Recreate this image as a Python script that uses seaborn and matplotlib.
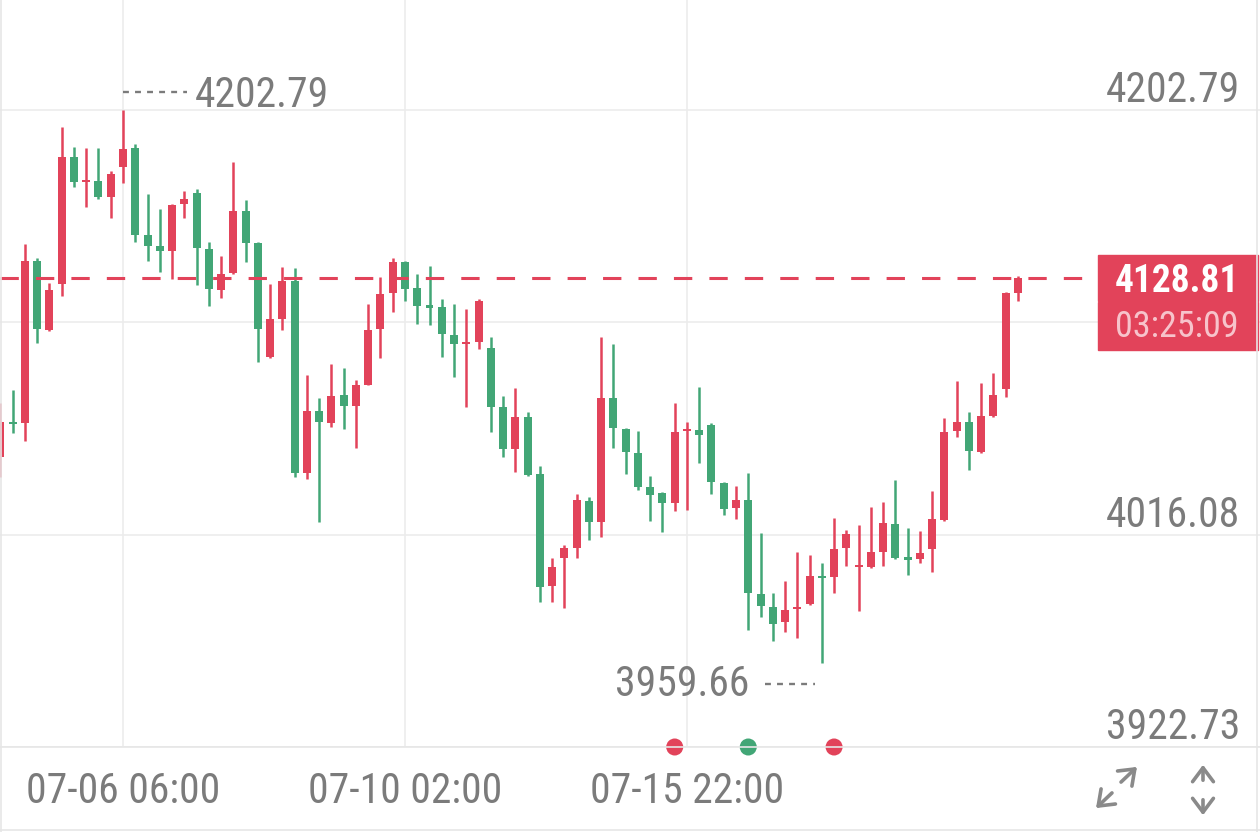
import numpy as np
import pandas as pd
import matplotlib
matplotlib.use("Agg")
import matplotlib.pyplot as plt
import matplotlib.transforms as mtransforms
from matplotlib.patches import Rectangle, FancyArrowPatch
from matplotlib.lines import Line2D
from matplotlib import font_manager as fm
import seaborn as sns

# ---------------- data ----------------
opens = [4050.2, 4065.6, 4065.2, 4136.4, 4106.1, 4126.3, 4182.1, 4171.1, 4171.6, 4164.5,
         4177.7, 4186.1, 4147.8, 4143.0, 4140.8, 4161.5, 4166.3, 4141.7, 4123.7, 4131.1,
         4158.4, 4144.3, 4094.2, 4110.9, 4127.6, 4043.2, 4070.5, 4065.2, 4077.5, 4072.7,
         4081.9, 4106.5, 4122.3, 4136.0, 4124.5, 4116.6, 4116.2, 4103.9, 4099.9, 4100.8,
         4098.2, 4072.2, 4053.8, 4067.8, 4042.8, 3993.5, 4005.8, 4010.2, 4030.9, 4021.7,
         4076.2, 4062.5, 4052.0, 4037.0, 4034.4, 4030.0, 4061.7, 4062.1, 4064.3, 4038.8,
         4027.8, 4031.3, 3990.0, 3984.3, 3977.7, 3983.4, 3985.6, 3997.9, 3997.5, 4010.2,
         4001.9, 4001.9, 4008.5, 4020.8, 4005.8, 4005.4, 4009.8, 4022.5, 4061.7, 4065.6,
         4052.4, 4068.3, 4080.1, 4122.3]
highs = [4074.0, 4079.7, 4143.9, 4137.7, 4126.7, 4195.3, 4186.5, 4186.1, 4186.1, 4176.0,
         4202.79, 4187.9, 4165.9, 4159.3, 4161.5, 4167.2, 4168.1, 4144.8, 4138.6, 4179.9,
         4163.2, 4144.8, 4126.3, 4133.8, 4133.3, 4086.3, 4076.2, 4091.1, 4089.4, 4084.1,
         4117.5, 4129.4, 4137.7, 4136.5, 4130.7, 4134.2, 4119.7, 4117.5, 4115.3, 4119.7,
         4103.0, 4077.1, 4080.6, 4070.0, 4046.3, 4005.8, 4011.5, 4034.0, 4032.6, 4103.0,
         4099.9, 4063.0, 4061.7, 4041.9, 4034.8, 4074.0, 4065.6, 4081.0, 4065.2, 4039.2,
         4037.5, 4043.2, 4016.8, 3990.4, 3995.7, 4008.5, 4007.2, 4003.6, 4023.4, 4018.1,
         4020.3, 4028.2, 4030.4, 4040.1, 4019.0, 4017.7, 4035.3, 4067.4, 4083.7, 4070.0,
         4082.8, 4087.2, 4122.8, 4129.8]
lows = [4041.4, 4060.8, 4057.3, 4100.4, 4105.6, 4121.0, 4168.9, 4160.2, 4163.7, 4155.3,
        4170.7, 4144.8, 4136.4, 4131.6, 4128.5, 4155.3, 4125.9, 4116.6, 4120.1, 4130.9,
        4136.0, 4092.0, 4093.8, 4106.1, 4041.4, 4040.6, 4021.7, 4063.4, 4062.5, 4054.2,
        4081.7, 4093.8, 4114.0, 4118.8, 4108.7, 4108.3, 4094.2, 4085.4, 4072.2, 4097.7,
        4061.2, 4050.2, 4043.6, 4042.0, 3986.5, 3986.5, 3983.8, 4005.8, 4013.7, 4015.1,
        4054.2, 4042.8, 4035.7, 4022.1, 4017.3, 4026.5, 4026.9, 4047.6, 4034.0, 4024.7,
        4023.0, 3974.2, 3979.9, 3969.3, 3973.3, 3970.7, 3985.2, 3959.66, 3990.4, 4002.3,
        3982.5, 4001.5, 4002.3, 4005.5, 3998.4, 4003.6, 3999.7, 4022.2, 4059.0, 4044.5,
        4052.0, 4068.0, 4076.6, 4118.8]
closes = [4065.6, 4064.7, 4136.4, 4106.5, 4123.7, 4182.1, 4171.1, 4172.0, 4164.5, 4174.7,
          4185.7, 4147.8, 4143.0, 4140.8, 4161.0, 4163.7, 4142.1, 4124.1, 4130.7, 4158.4,
          4144.3, 4106.5, 4110.9, 4127.6, 4043.2, 4070.5, 4065.6, 4077.1, 4072.7, 4081.9,
          4106.1, 4121.9, 4136.0, 4124.1, 4116.6, 4116.2, 4104.3, 4099.9, 4100.4, 4118.8,
          4072.2, 4053.8, 4067.8, 4042.3, 3993.1, 4001.9, 4010.2, 4031.3, 4021.7, 4076.2,
          4063.0, 4052.4, 4037.0, 4033.5, 4030.0, 4061.2, 4062.1, 4059.9, 4039.2, 4027.4,
          4031.3, 3990.4, 3984.7, 3976.8, 3983.0, 3984.3, 3997.9, 3997.0, 4009.8, 4016.4,
          4002.3, 4008.5, 4021.2, 4005.8, 4005.4, 4008.0, 4023.0, 4061.2, 4065.6, 4052.9,
          4068.3, 4077.5, 4122.3, 4128.81]

time_labels = ["07-06 06:00", "07-10 02:00", "07-15 22:00"]
time_label_idx = [10, 33, 56]
price_labels = [4202.79, 4016.08, 3922.73]
grid_prices = [4202.79, 4109.435, 4016.08, 3922.73]
last_price = 4128.81
countdown = "03:25:09"
max_price, max_idx = 4202.79, 10
min_price, min_idx = 3959.66, 67
signal_idx = [55, 61, 68]
signal_side = ["up", "down", "up"]

# ---------------- style ----------------
RED = "#e2435a"
GREEN = "#42a676"
GRAY_TXT = "#7b7b7b"
GRID = "#ececec"

sns.set_theme(style="white")
_names = {f.name for f in fm.fontManager.ttflist}
_narrow = [n for n in ["Liberation Sans Narrow", "Roboto Condensed"] if n in _names]
if _narrow:
    plt.rcParams["font.family"] = [_narrow[0], "DejaVu Sans"]
    FS, FSB1, FSB2, WT = 30, 27, 26, "normal"
else:
    plt.rcParams["font.family"] = ["Roboto", "DejaVu Sans"]
    FS, FSB1, FSB2, WT = 26, 25, 24, "medium"

W, H = 1260, 832
fig = plt.figure(figsize=(W / 100, H / 100), dpi=100)
fig.patch.set_facecolor("white")
ax_bottom_px = 747
ax = fig.add_axes([0, 1 - ax_bottom_px / H, 1, ax_bottom_px / H])
ax.set_facecolor("white")

step = 12.26
x0px = 0.4
ax.set_xlim((0 - x0px) / step, (W - x0px) / step)
ax.set_ylim(3922.73, 4251.16)
for s in ax.spines.values():
    s.set_visible(False)
ax.set_xticks([])
ax.set_yticks([])

# grid
for gp in grid_prices:
    ax.axhline(gp, color=GRID, lw=1.2, zorder=0)
for gi in time_label_idx:
    ax.axvline(gi, color=GRID, lw=1.2, zorder=0)

# candles
df = pd.DataFrame({"open": opens, "high": highs, "low": lows, "close": closes})
df["idx"] = np.arange(len(df))
df["up"] = df["close"] >= df["open"]
df["color"] = np.where(df["up"], RED, GREEN)
min_h = 0.9
diff = (df["close"] - df["open"]).abs()
body_h = np.maximum(diff, min_h)
body_bot = np.minimum(df["open"], df["close"]) - (body_h - diff) / 2

ax.vlines(df["idx"], df["low"], df["high"], colors=df["color"], lw=1.8, zorder=3)
ax.bar(df["idx"], body_h, bottom=body_bot, width=0.65, color=df["color"],
       linewidth=0, zorder=4)

# current price dashed line + box
ax.axhline(last_price, xmin=0, xmax=1098 / W, color=RED, lw=2.2,
           linestyle=(0, (6.0, 5.6)), zorder=5)
box_top = 1 - 255 / ax_bottom_px
box_mid = 1 - 301 / ax_bottom_px
box_bot = 1 - 350 / ax_bottom_px
ax.add_patch(Rectangle((1098 / W, box_mid), (1258 - 1098) / W, box_top - box_mid,
                       transform=ax.transAxes, color=RED, zorder=6, clip_on=False))
ax.add_patch(Rectangle((1098 / W, box_bot), (1258 - 1098) / W, box_mid - box_bot - 0.002,
                       transform=ax.transAxes, color=RED, zorder=6, clip_on=False))
ax.text(1177 / W, 1 - 292 / ax_bottom_px, f"{last_price:.2f}", transform=ax.transAxes,
        ha="center", va="baseline", color="white", fontsize=FSB1, fontweight="bold", zorder=7)
ax.text(1177 / W, 1 - 337 / ax_bottom_px, countdown, transform=ax.transAxes,
        ha="center", va="baseline", color="#f7c3cb", fontsize=FSB2, fontweight=WT, zorder=7)

# right-side price labels
for p in price_labels:
    ax.annotate(f"{p:.2f}", xy=(1240 / W, p), xycoords=("axes fraction", "data"),
                xytext=(0, 8), textcoords="offset pixels", ha="right", va="baseline",
                color=GRAY_TXT, fontsize=FS, fontweight=WT)

# max / min annotations
off_up = mtransforms.offset_copy(ax.transData, fig=fig, x=0, y=18, units="dots")
ax.plot([max_idx, max_idx + 64 / step], [max_price, max_price], transform=off_up,
        color=GRAY_TXT, lw=1.7, linestyle=(0, (2.5, 2.6)), zorder=5)
ax.annotate(f"{max_price:.2f}", xy=(max_idx, max_price), xytext=(72, 3),
            textcoords="offset pixels", ha="left", va="baseline", color=GRAY_TXT,
            fontsize=FS, fontweight=WT)
off_dn = mtransforms.offset_copy(ax.transData, fig=fig, x=0, y=-21, units="dots")
ax.plot([min_idx - 57 / step, min_idx - 7 / step], [min_price, min_price], transform=off_dn,
        color=GRAY_TXT, lw=1.7, linestyle=(0, (2.5, 2.6)), zorder=5)
ax.annotate(f"{min_price:.2f}", xy=(min_idx, min_price), xytext=(-72, -33),
            textcoords="offset pixels", ha="right", va="baseline", color=GRAY_TXT,
            fontsize=FS, fontweight=WT)

# signal dots on the bottom line
sig = pd.DataFrame({"idx": signal_idx, "side": signal_side, "y": [3922.73] * len(signal_idx)})
sns.scatterplot(data=sig, x="idx", y="y", hue="side", palette={"up": RED, "down": GREEN},
                s=150, linewidth=0, legend=False, ax=ax, zorder=8)
ax.collections[-1].set_clip_on(False)
ax.set_xlabel("")
ax.set_ylabel("")

# time axis labels
for lbl, gi in zip(time_labels, time_label_idx):
    xf = (gi * step + x0px) / W
    fig.text(xf, 1 - 803 / H, lbl, ha="center", va="baseline", color=GRAY_TXT,
             fontsize=FS, fontweight=WT)

# frame lines
for (xa, ya, xb, yb) in [(0, 1 - 747 / H, 1, 1 - 747 / H), (0.5 / W, 0, 0.5 / W, 1),
                         (1257 / W, 0, 1257 / W, 1), (0, 1 - 830 / H, 1, 1 - 830 / H)]:
    fig.add_artist(Line2D([xa, xb], [ya, yb], transform=fig.transFigure, color="#e6e6e6", lw=1.2))

# icons (bottom right)
ICON = "#8a8a8a"
def farrow(p1, p2):
    fig.add_artist(FancyArrowPatch((p1[0] / W, 1 - p1[1] / H), (p2[0] / W, 1 - p2[1] / H),
                                   transform=fig.transFigure, arrowstyle="->,head_length=4,head_width=3",
                                   mutation_scale=2.5, color=ICON, lw=2.6))
farrow((1119, 784), (1139, 765))
farrow((1114, 791), (1094, 810))
farrow((1203, 783), (1203, 762))
farrow((1203, 797), (1203, 818))

fig.savefig("out.png", dpi=100, facecolor="white")
